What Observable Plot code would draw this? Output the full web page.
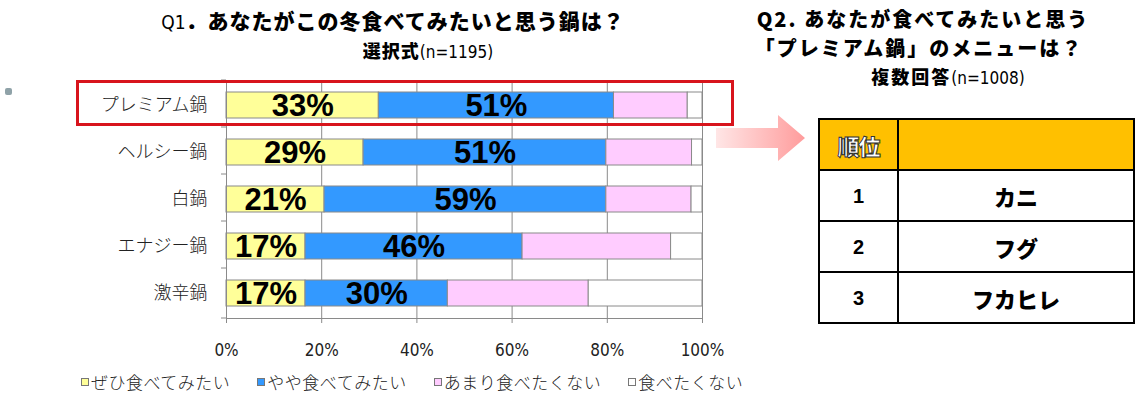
<!DOCTYPE html>
<html><head><meta charset="utf-8">
<script src="https://cdn.jsdelivr.net/npm/d3@7"></script>
<script src="https://cdn.jsdelivr.net/npm/@observablehq/plot@0.6"></script>
<style>
body{margin:0;background:#fff;}
#root{position:relative;width:1147px;height:397px;overflow:hidden;background:#fff;font-family:"Noto Sans CJK JP",sans-serif;color:#000;}
.abs{position:absolute;white-space:nowrap;}
.narrow{font-family:"DejaVu Sans Condensed","Liberation Sans",sans-serif;font-weight:400;letter-spacing:0;}
.ttl{font-weight:900;text-align:center;}
#chart{position:absolute;left:0;top:0;}
#redbox{position:absolute;left:76px;top:80px;width:658px;height:46px;border:3px solid #d8141c;box-sizing:border-box;}
#arrow{position:absolute;left:716px;top:115px;width:89px;height:46px;
 clip-path:polygon(0 13px,62px 13px,62px 0,89px 23px,62px 46px,62px 33px,0 33px);
 background:linear-gradient(to right,#ffe6e6,#ff9c9c);}
#dot{position:absolute;left:5px;top:88px;width:7px;height:7px;background:#8fa2a8;border-radius:2px;}
#legend{position:absolute;left:81px;top:369px;display:flex;align-items:center;font-size:17px;font-weight:300;color:#222;letter-spacing:0.5px;}
#legend .item{display:flex;align-items:center;margin-right:27px;}
#legend .sw{width:6px;height:6px;border:1px solid #777;margin-right:2px;}
#tbl{position:absolute;left:818px;top:118px;width:317px;height:204px;border-collapse:collapse;}
#tbl td{border:2px solid #000;text-align:center;padding:0;height:49px;}
#tbl tr.head td{background:#FFC000;}
.rank{font-family:"Liberation Sans","DejaVu Sans",sans-serif;font-weight:900;font-size:20px;}
.menu{font-weight:900;font-size:22px;}
.headtxt{font-weight:900;font-size:22px;color:#fff;-webkit-text-stroke:1px #333;letter-spacing:-1px;}
</style></head><body><div id="root"></div><script>
// ---- Data ----
const categories = ["プレミアム鍋", "ヘルシー鍋", "白鍋", "エナジー鍋", "激辛鍋"];
const seriesNames = ["ぜひ食べてみたい", "やや食べてみたい", "あまり食べたくない", "食べたくない"];
const seriesColors = ["#FFFF99", "#3399FF", "#FFCCFF", "#FFFFFF"];
const veryMuch = [32, 28.8, 20.6, 16.6, 16.6];
const somewhat = [49.4, 51, 59.2, 45.6, 29.9];
const notMuch  = [15.5, 18, 17.9, 31.2, 29.6];
const notAtAll = [3.1, 2.2, 2.3, 6.6, 23.9];
const veryLabels = ["33%", "29%", "21%", "17%", "17%"];
const someLabels = ["51%", "51%", "59%", "46%", "30%"];
const xTicks = [0, 20, 40, 60, 80, 100];
const q1Title = "あなたがこの冬食べてみたいと思う鍋は？";
const q2Ranks = ["1", "2", "3"];
const q2Menu = ["カニ", "フグ", "フカヒレ"];

const seriesValues = [veryMuch, somewhat, notMuch, notAtAll];
const seriesLabels = [veryLabels, someLabels, null, null];
const long = [];
seriesNames.forEach((s, si) => categories.forEach((c, ci) => long.push({
  cat: c, series: s, value: seriesValues[si][ci],
  label: seriesLabels[si] ? seriesLabels[si][ci] : ""
})));

const root = document.getElementById("root");

// band boundary ticks on the left axis
function bandTicks(index, scales, values, dims) {
  const y = scales.y;
  const top = dims.marginTop, bottom = dims.height - dims.marginBottom;
  const off = y(categories[0]) - top;
  const ys = categories.map(c => y(c) - off).concat([bottom]);
  const g = d3.create("svg:g").attr("stroke", "#8a8a8a");
  ys.forEach(v => g.append("line").attr("x1", dims.marginLeft - 5).attr("x2", dims.marginLeft)
    .attr("y1", v).attr("y2", v));
  return g.node();
}

const chart = Plot.plot({
  width: 740, height: 397,
  marginLeft: 226, marginRight: 38, marginTop: 80, marginBottom: 79,
  style: {fontFamily: '"Noto Sans CJK JP", sans-serif', background: "transparent", overflow: "visible"},
  x: {domain: [0, 100]},
  y: {domain: categories, paddingInner: 0.45, paddingOuter: 0.225},
  color: {domain: seriesNames, range: seriesColors},
  marks: [
    Plot.gridX(xTicks, {stroke: "#8a8a8a", strokeOpacity: 1}),
    Plot.barX(long, Plot.stackX({x: "value", y: "cat", fill: "series", stroke: "#8a8a8a", strokeWidth: 1})),
    Plot.frame({stroke: "#8a8a8a"}),
    bandTicks,
    Plot.axisX({ticks: xTicks, tickSize: 5, tickPadding: 20, tickFormat: d => d + "%", stroke: "#8a8a8a",
      fill: "#222", fontSize: 17, fontFamily: '"DejaVu Sans Condensed", sans-serif', label: null}),
    Plot.axisY({tickSize: 0, tickPadding: 19, fontSize: 18, fill: "#222", fontWeight: 300, label: null}),
    Plot.text(long, Plot.stackX({x: "value", y: "cat", z: "series", text: "label", fontSize: 31, fontWeight: "bold",
      fontFamily: '"Liberation Sans", Arial, sans-serif', fill: "#000", dy: 1}))
  ]
});
chart.id = "chart";
root.appendChild(chart);

function addDiv(html, css, cls) {
  const d = document.createElement("div");
  d.className = "abs " + (cls || "");
  d.innerHTML = html;
  Object.assign(d.style, css);
  root.appendChild(d);
  return d;
}

// Titles
addDiv('<span class="narrow" style="font-size:19px">Q1</span>．' + q1Title,
  {left: "93px", width: "600px", top: "8px", lineHeight: "24px", fontSize: "21px", letterSpacing: "1px"}, "ttl");
addDiv('選択式<span class="narrow" style="font-size:17px">(n=1195)</span>',
  {left: "278px", width: "300px", top: "39px", lineHeight: "22px", fontSize: "18px", letterSpacing: "1px"}, "ttl");
addDiv('Q2.&nbsp;あなたが食べてみたいと思う',
  {left: "723px", width: "400px", top: "7px", lineHeight: "24px", fontSize: "20px", letterSpacing: "2px"}, "ttl");
addDiv('「プレミアム鍋」のメニューは？',
  {left: "719px", width: "400px", top: "36px", lineHeight: "24px", fontSize: "20px", letterSpacing: "2px"}, "ttl");
addDiv('複数回答<span class="narrow" style="font-size:17px">(n=1008)</span>',
  {left: "798px", width: "300px", top: "65px", lineHeight: "22px", fontSize: "18px", letterSpacing: "2px"}, "ttl");

// decorations
const dot = document.createElement("div"); dot.id = "dot"; root.appendChild(dot);
const arrow = document.createElement("div"); arrow.id = "arrow"; root.appendChild(arrow);
const red = document.createElement("div"); red.id = "redbox"; root.appendChild(red);

// legend
const lg = document.createElement("div"); lg.id = "legend";
seriesNames.forEach((s, i) => {
  const it = document.createElement("div"); it.className = "item";
  it.innerHTML = `<div class="sw" style="background:${seriesColors[i]}"></div><span>${s}</span>`;
  lg.appendChild(it);
});
root.appendChild(lg);

// table
const tbl = document.createElement("table"); tbl.id = "tbl";
let html = '<tr class="head"><td style="width:77px"><span class="headtxt">順位</span></td><td></td></tr>';
q2Ranks.forEach((r, i) => {
  html += `<tr><td><span class="rank">${r}</span></td><td><span class="menu">${q2Menu[i]}</span></td></tr>`;
});
tbl.innerHTML = html;
root.appendChild(tbl);
</script></body></html>
